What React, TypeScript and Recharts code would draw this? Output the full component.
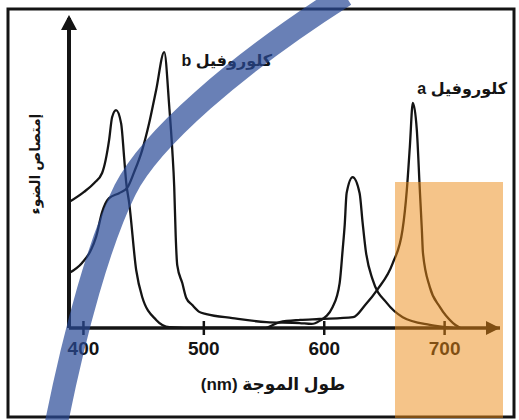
import { Line, LineChart, XAxis, YAxis } from "recharts";

// wavelength (nm) / relative absorption
const chlAWavelength = [388, 400.5, 409, 415.5, 421.3, 423.8, 427.1, 431.3, 433.8, 435.5, 438, 443.8, 448.8, 460.4, 471.3, 496, 550, 563, 580, 596, 624, 634, 644, 657, 665, 668.6, 671.1, 673.6, 676.9, 679.4, 681.1, 682, 687.7, 696, 707, 713];
const chlAAbsorption = [40.6, 43.9, 46.8, 50, 60.6, 68, 70.3, 66, 55, 47, 40.3, 18.7, 10, 2.6, 0.3, 0, 0, 1.9, 2.6, 2.9, 3.5, 7.4, 12.3, 21, 31.6, 44.5, 58.4, 72.6, 63.9, 44.5, 31.6, 24.2, 13.2, 6.8, 1.6, 0];

const chlBWavelength = [388, 398.8, 406.3, 410.5, 415.5, 421.3, 429.6, 436.3, 442.1, 448.8, 454.6, 460.4, 467.1, 471.3, 473.8, 475.4, 476.6, 477.9, 482.1, 485.4, 490.4, 496.2, 502.1, 523.7, 552, 579.5, 589.5, 596.1, 607, 612.8, 615.3, 617, 618.6, 623.6, 629.4, 631.9, 634.4, 640.3, 651.9, 665.2, 687.7, 706.9];
const chlBAbsorption = [17.7, 21, 25.2, 29.4, 37.4, 41.9, 43.5, 45.2, 50.3, 57.4, 66.1, 76.8, 89, 71.3, 57.4, 45.5, 30, 20.3, 14.5, 9.7, 7.4, 5.2, 4.5, 3.2, 1.9, 1.6, 1.3, 2.3, 6.8, 14.5, 25.2, 33.2, 43.5, 48.7, 43.5, 33.9, 25.2, 15.5, 8.1, 3.5, 1, 0];

const xTicks = [400, 500, 600, 700];

const chlA = chlAWavelength.map((nm, i) => ({ nm, abs: chlAAbsorption[i] }));
const chlB = chlBWavelength.map((nm, i) => ({ nm, abs: chlBAbsorption[i] }));

const FONT = "'Liberation Sans', 'DejaVu Sans', Arial, sans-serif";
const INK = "#141414";

function WaveTick({ x, y, payload }: any) {
    return (
        <g>
            <line x1={x} x2={x} y1={y - 7} y2={y + 7} stroke={INK} strokeWidth={2.5} />
            <text
                x={x}
                y={y + 27}
                textAnchor="middle"
                fontSize={19}
                fontWeight="bold"
                fontFamily={FONT}
                fill={INK}
            >
                {payload.value}
            </text>
        </g>
    );
}

export default function App() {
    return (
        <div
            style={{
                position: "absolute",
                left: 0,
                top: 0,
                width: 519,
                height: 420,
                background: "#fff",
            }}
        >
            <LineChart
                width={519}
                height={420}
                data={chlA}
                margin={{ top: 18, right: 19, bottom: 62, left: 67 }}
            >
                <XAxis
                    dataKey="nm"
                    type="number"
                    domain={[388, 746]}
                    ticks={xTicks}
                    allowDataOverflow
                    height={30}
                    tickSize={0}
                    tickMargin={0}
                    tickLine={false}
                    tick={<WaveTick />}
                    axisLine={{ stroke: INK, strokeWidth: 3.5 }}
                />
                <YAxis
                    type="number"
                    domain={[0, 100]}
                    width={2}
                    tick={false}
                    tickLine={false}
                    allowDataOverflow
                    axisLine={{ stroke: INK, strokeWidth: 4 }}
                />
                <Line
                    data={chlA}
                    dataKey="abs"
                    type="monotone"
                    stroke={INK}
                    strokeWidth={2.3}
                    dot={false}
                    isAnimationActive={false}
                />
                <Line
                    data={chlB}
                    dataKey="abs"
                    type="monotone"
                    stroke={INK}
                    strokeWidth={2.3}
                    dot={false}
                    isAnimationActive={false}
                />
            </LineChart>

            <svg
                width={519}
                height={420}
                style={{ position: "absolute", left: 0, top: 0, pointerEvents: "none" }}
            >
                {/* scan frame + axis arrows */}
                <path d="M 8 9 H 514 V 417 H 8 Z" fill="none" stroke={INK} strokeWidth={3} />
                <polygon points="500,328 486,321 486,335" fill={INK} />
                <polygon points="69,15 61,30 77,30" fill={INK} />

                <text x={272} y={66} textAnchor="end" fontSize={16} fontWeight="bold" fontFamily={FONT} fill={INK}>
                    b كلوروفيل
                </text>
                <text x={507} y={94} textAnchor="end" fontSize={16} fontWeight="bold" fontFamily={FONT} fill={INK}>
                    a كلوروفيل
                </text>
                <text x={273} y={390} textAnchor="middle" fontSize={17} fontWeight="bold" fontFamily={FONT} fill={INK}>
                    (nm) طول الموجة
                </text>
                <text
                    transform="translate(40,164) rotate(-90)"
                    textAnchor="middle"
                    fontSize={14}
                    fontWeight="bold"
                    fontFamily={FONT}
                    fill={INK}
                >
                    إمتصاص الضوء
                </text>

                {/* highlighter marks on the page */}
                <rect x={395} y={182} width={108} height={236} fill="#ec8a14" fillOpacity={0.5} />
                <path
                    d="M 56 425 C 75 330, 100 240, 125 190 S 235 65, 345 -5"
                    fill="none"
                    stroke="#294a97"
                    strokeOpacity={0.7}
                    strokeWidth={23}
                />
            </svg>
        </div>
    );
}
